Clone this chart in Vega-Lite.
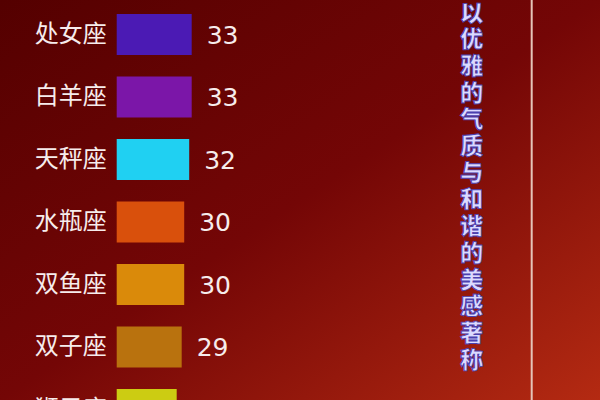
{
  "$schema": "https://vega.github.io/schema/vega-lite/v6.json",
  "width": 600,
  "height": 400,
  "padding": 0,
  "autosize": "none",
  "background": "#6a0404",
  "view": {
    "stroke": null,
    "fill": {
      "gradient": "linear",
      "x1": 0, "y1": 0, "x2": 1, "y2": 1,
      "stops": [
        {"offset": 0, "color": "#540000"},
        {"offset": 0.5, "color": "#740606"},
        {"offset": 1, "color": "#b42a12"}
      ]
    }
  },
  "config": {"axis": {"disable": true}, "legend": {"disable": true}},
  "data": {
    "values": [
      {"sign": "处女座", "score": 33, "color": "#4b1ab4"},
      {"sign": "白羊座", "score": 33, "color": "#7b16a8"},
      {"sign": "天秤座", "score": 32, "color": "#20d0f2"},
      {"sign": "水瓶座", "score": 30, "color": "#d9500c"},
      {"sign": "双鱼座", "score": 30, "color": "#da8a0a"},
      {"sign": "双子座", "score": 29, "color": "#b9720e"},
      {"sign": "狮子座", "score": 27, "color": "#cccc12"}
    ]
  },
  "layer": [
    {
      "mark": {"type": "bar", "clip": true},
      "encoding": {
        "y": {"field": "sign", "type": "nominal", "sort": null, "scale": {"domain": ["处女座", "白羊座", "天秤座", "水瓶座", "双鱼座", "双子座", "狮子座"], "range": [0, 444], "paddingInner": 0.344, "paddingOuter": 0.224}},
        "x": {"field": "score", "type": "quantitative", "scale": {"domain": [-43.68, 196.32], "nice": false, "zero": false}},
        "x2": {"datum": 3},
        "color": {"field": "color", "type": "nominal", "scale": null}
      }
    },
    {
      "mark": {"type": "text", "clip": true, "align": "right", "baseline": "middle", "dx": -10, "fontSize": 24, "font": "Noto Sans CJK SC", "color": "#f6ecec"},
      "encoding": {
        "y": {"field": "sign", "type": "nominal", "sort": null},
        "x": {"datum": 3},
        "text": {"field": "sign"}
      }
    },
    {
      "mark": {"type": "text", "clip": true, "align": "left", "baseline": "middle", "dx": 15, "dy": 1, "fontSize": 25, "font": "DejaVu Sans", "color": "#f6ecec"},
      "encoding": {
        "y": {"field": "sign", "type": "nominal", "sort": null},
        "x": {"field": "score", "type": "quantitative"},
        "text": {"field": "score"}
      }
    },
    {
      "data": {"values": [{"pos": 169}]},
      "mark": {"type": "rule", "color": "#e6c4b8", "strokeWidth": 2},
      "encoding": {"x": {"field": "pos", "type": "quantitative"}}
    },
    {
      "data": {"values": [{"caption": "以\n优\n雅\n的\n气\n质\n与\n和\n谐\n的\n美\n感\n著\n称", "anchor": "处女座", "pos": 145}]},
      "mark": {"type": "text", "align": "center", "baseline": "top", "dy": -32, "lineBreak": "\n", "lineHeight": 26.7, "fontSize": 23, "fontWeight": 900, "font": "Noto Sans CJK SC", "color": "#dcdaff", "stroke": "#4a40b0", "strokeWidth": 0.9},
      "encoding": {
        "x": {"field": "pos", "type": "quantitative"},
        "y": {"field": "anchor", "type": "nominal"},
        "text": {"field": "caption"}
      }
    }
  ]
}
